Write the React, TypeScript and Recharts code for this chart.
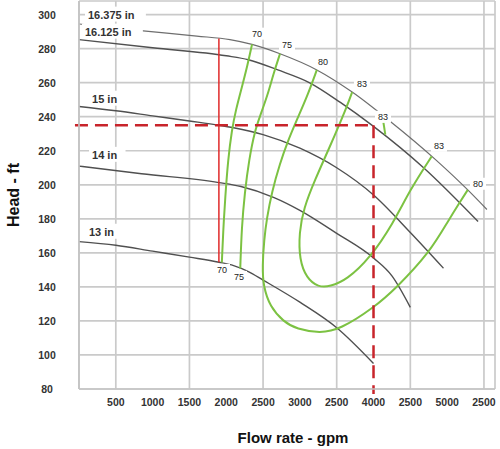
import React from "react";
import {
  ComposedChart,
  Line,
  Scatter,
  XAxis,
  YAxis,
  CartesianGrid,
  ReferenceLine,
  Label,
} from "recharts";

type Pt = [number, number];

// axis ticks (labels copied as printed on the original)
const xTicks = [500, 1000, 1500, 2000, 2500, 3000, 3500, 4000, 4500, 5000, 5500];
const xTickLabels = ["500", "1000", "1500", "2000", "2500", "3000", "2500", "4000", "2500", "5000", "2500"];
const yTicks = [80, 100, 120, 140, 160, 180, 200, 220, 240, 260, 280, 300];

// impeller head curves (flow gpm, head ft)
const imp16375: Pt[] = [[0, 294.5], [800, 290.7], [1600, 287.4], [2050, 285.3], [2350, 282.5], [2730, 277], [3230, 267.5], [3710, 254.5], [4220, 237.5], [4850, 214.5], [5280, 197], [5540, 185.5]];
const imp16125: Pt[] = [[0, 285.3], [1000, 280.5], [2000, 275.8], [2300, 273.5], [2700, 267.5], [3140, 259.8], [3550, 248.4], [4000, 234.3], [4680, 210], [5420, 178.4]];
const imp15: Pt[] = [[0, 246], [500, 243.5], [1000, 240.5], [1500, 237.5], [1900, 235], [2100, 233.5], [2500, 229.5], [3000, 221.5], [3500, 210], [4000, 194], [4500, 172], [4950, 151]];
const imp14: Pt[] = [[0, 211], [850, 206.5], [1900, 201.3], [2200, 199], [2650, 192.5], [3000, 185], [3500, 171.5], [4000, 157], [4250, 146.5], [4500, 128]];
const imp13: Pt[] = [[0, 166.6], [500, 164.5], [1000, 161], [1500, 157.5], [1900, 154.5], [2100, 152.5], [2300, 149], [2500, 144], [3000, 131], [3500, 116], [4000, 95]];

// efficiency contours
const eff70: Pt[] = [[2350, 282.5], [2290, 270.5], [2210, 257], [2130, 244], [2075, 232], [2025, 215], [1985, 192], [1960, 174], [1940, 154.3]];
const eff75: Pt[] = [[2730, 277], [2640, 265], [2560, 252.5], [2460, 240.5], [2390, 232], [2310, 215], [2250, 195], [2210, 175], [2190, 150.8]];
const eff80: Pt[] = [[3230, 267.5], [3100, 252], [2956, 238], [2830, 225], [2730, 212.7], [2620, 196], [2550, 180], [2515, 168], [2490, 152], [2504, 140.2], [2594, 128.4], [2776, 119.6], [2956, 115.2], [3273, 112.8], [3545, 115], [3997, 127.5], [4314, 139.5], [4767, 160.5], [5016, 179], [5175, 190], [5280, 197]];
const eff83: Pt[] = [[3710, 254.5], [3635, 245.5], [3409, 222.5], [3205, 203], [3050, 186], [2990, 172], [2993, 156], [3091, 145.1], [3250, 139.8], [3409, 140.2], [3635, 144.1], [3952, 156.9], [4269, 177.5], [4495, 197], [4790, 216.7]];
const eff83b: Pt[] = [[4160, 229.5], [4135, 236.5]];

// operating point construction
const redVertical: Pt[] = [[1900, 154.5], [1900, 286]];
const dutyFlow = 4000;
const dutyHead = 235;

const curveNames = ["16.375 in", "16.125 in", "15 in", "14 in", "13 in"];
const curveNameAt: Pt[] = [[122, 300], [81, 290], [177, 250.6], [177, 217.6], [136, 172.4]];
const effNames = ["70", "75", "80", "83", "83", "83", "80", "70", "75"];
const effNameAt: Pt[] = [[2417, 288.8], [2825, 282.4], [3314, 272.4], [3843, 259.4], [4129, 240], [4889, 222.9], [5419, 200.6], [1942, 150], [2173, 145.9]];

const rows = (pts: Pt[]) => pts.map(([x, y]) => ({ x, y }));

const FONT = "'Liberation Sans', Arial, sans-serif";
const GRAY = "#505050";
const GREEN = "#7cc242";
const RED = "#c8242b";

const CurveName = (p: any) => (
  <g>
    <rect x={p.cx - 3} y={p.cy - 8} width={p.payload.text.length * 6.1 + 6} height={15} fill="#fff" />
    <text x={p.cx} y={p.cy} dominantBaseline="central" fontSize={11} fontWeight="bold" fill="#333" fontFamily={FONT}>
      {p.payload.text}
    </text>
  </g>
);

const EffName = (p: any) => (
  <g>
    <rect x={p.cx - 8} y={p.cy - 6} width={16} height={12} fill="#fff" />
    <text x={p.cx} y={p.cy} textAnchor="middle" dominantBaseline="central" fontSize={9} fill="#222" fontFamily={FONT}>
      {p.payload.text}
    </text>
  </g>
);

const YTick = (p: any) => (
  <text x={47} y={p.y} textAnchor="middle" dominantBaseline="central" fontSize={10.5} fontWeight="bold" fill="#333" fontFamily={FONT}>
    {p.payload.value}
  </text>
);

export default function App() {
  const grayCurves = [imp16375, imp16125, imp15, imp14, imp13];
  const greenCurves = [eff70, eff75, eff80, eff83, eff83b];
  return (
    <div>
      <style>{`body{margin:0}`}</style>
      <ComposedChart width={500} height={449} margin={{ top: 1, right: 5, bottom: 0, left: 0 }}>
        <CartesianGrid stroke="#cacaca" strokeWidth={1.7} />
        <XAxis
          type="number"
          dataKey="x"
          domain={[0, 5650]}
          ticks={xTicks}
          tickFormatter={(v: number, i: number) => xTickLabels[i]}
          height={60}
          tickLine={false}
          tickMargin={4}
          axisLine={{ stroke: "#c4c4c4", strokeWidth: 1.7 }}
          tick={{ fill: "#333", fontSize: 10.5, fontWeight: "bold", fontFamily: FONT }}
        >
          <Label
            content={({ viewBox }: any) => (
              <text x={viewBox.x + viewBox.width / 2 + 6} y={viewBox.y + 54} textAnchor="middle" fontSize={15} fontWeight="bold" fill="#111" fontFamily={FONT}>
                Flow rate - gpm
              </text>
            )}
          />
        </XAxis>
        <YAxis
          type="number"
          dataKey="y"
          domain={[80, 308]}
          ticks={yTicks}
          width={79}
          tickLine={false}
          axisLine={{ stroke: "#c4c4c4", strokeWidth: 1.7 }}
          tick={<YTick />}
        >
          <Label
            content={({ viewBox }: any) => {
              const cy = viewBox.y + viewBox.height / 2;
              return (
                <text x={13} y={cy} transform={`rotate(-90 13 ${cy})`} textAnchor="middle" dominantBaseline="central" fontSize={16} fontWeight="bold" fill="#111" fontFamily={FONT}>
                  Head - ft
                </text>
              );
            }}
          />
        </YAxis>

        {grayCurves.map((c, i) => (
          <Line
            key={"imp" + i}
            data={rows(c)}
            dataKey="y"
            type="monotone"
            stroke={i === 0 ? "#6e6e6e" : GRAY}
            strokeWidth={i === 0 ? 1.2 : 1.4}
            dot={false}
            isAnimationActive={false}
          />
        ))}
        {greenCurves.map((c, i) => (
          <Line
            key={"eff" + i}
            data={rows(c)}
            dataKey="y"
            type="basis"
            stroke={GREEN}
            strokeWidth={2}
            dot={false}
            isAnimationActive={false}
          />
        ))}
        <Line data={rows(redVertical)} dataKey="y" type="linear" stroke="#e02a2a" strokeWidth={1.5} dot={false} isAnimationActive={false} />
        <ReferenceLine
          segment={[{ x: -55, y: dutyHead }, { x: dutyFlow, y: dutyHead }]}
          stroke={RED}
          strokeWidth={2.5}
          strokeDasharray="13 7"
          ifOverflow="visible"
        />
        <ReferenceLine
          segment={[{ x: dutyFlow, y: dutyHead }, { x: dutyFlow, y: 77 }]}
          stroke={RED}
          strokeWidth={2.5}
          strokeDasharray="13 7"
          ifOverflow="visible"
        />
        <Scatter
          data={curveNames.map((t, i) => ({ x: curveNameAt[i][0], y: curveNameAt[i][1], text: t }))}
          dataKey="y"
          shape={<CurveName />}
          isAnimationActive={false}
        />
        <Scatter
          data={effNames.map((t, i) => ({ x: effNameAt[i][0], y: effNameAt[i][1], text: t }))}
          dataKey="y"
          shape={<EffName />}
          isAnimationActive={false}
        />
      </ComposedChart>
    </div>
  );
}
